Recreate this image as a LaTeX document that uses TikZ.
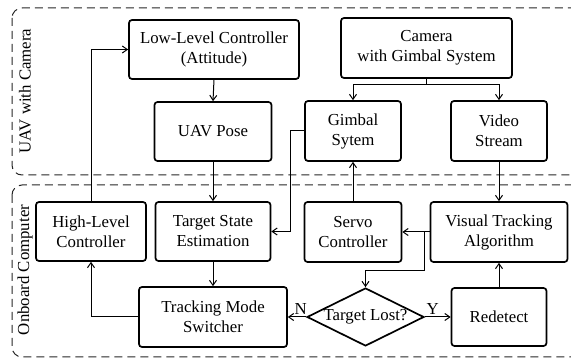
\documentclass[tikz,border=0pt]{standalone}
\usepackage{fontspec}
\setmainfont{Liberation Serif}
\usetikzlibrary{shapes.geometric,arrows.meta}

\begin{document}
\begin{tikzpicture}[x=1pt, y=-1pt,
  >={Straight Barb[length=5pt,width=7pt]},
  font=\fontsize{16.8}{20}\selectfont,
  blk/.style={draw, line width=1.7pt, rounded corners=3pt, align=center,
              inner sep=0pt},
  area/.style={draw=black!85, line width=1pt, dash pattern=on 8pt off 5pt,
               rounded corners=10pt},
  conn/.style={->, line width=1pt}]
\useasboundingbox (0,0) rectangle (571,358);
\clip (0,0) rectangle (571,358);

% dashed areas
\draw[area] (12,8) rectangle (600,175);
\draw[area] (12,185) rectangle (600,357);
\node[rotate=90] (uavlbl) at (25,91) {UAV with Camera};
\node[rotate=90] (obclbl) at (25,270) {Onboard Computer};

% UAV with camera
\node[blk, minimum width=170pt, minimum height=59pt] (LLC) at (214,49.5)
  {Low-Level Controller\\(Attitude)};
\node[blk, minimum width=117pt, minimum height=59pt] (Pose) at (213,131.5)
  {UAV Pose};
\node[blk, minimum width=171pt, minimum height=60pt] (Cam) at (426.5,48)
  {Camera\\with Gimbal System};
\node[blk, minimum width=96pt, minimum height=60pt] (Gim) at (353,131)
  {Gimbal\\Sytem};
\node[blk, minimum width=96pt, minimum height=60pt] (Vid) at (499,131)
  {Video\\Stream};

% onboard computer
\node[blk, minimum width=110pt, minimum height=59pt] (HLC) at (91,231.5)
  {High-Level\\Controller};
\node[blk, minimum width=115pt, minimum height=59pt] (TSE) at (213,231.5)
  {Target State\\Estimation};
\node[blk, minimum width=148pt, minimum height=60pt] (TMS) at (213,317)
  {Tracking Mode\\Switcher};
\node[blk, minimum width=97pt, minimum height=60pt] (Servo) at (353,232)
  {Servo\\Controller};
\node[blk, minimum width=137pt, minimum height=60pt] (VTA) at (499,232)
  {Visual Tracking\\Algorithm};
\node[draw, diamond, line width=1.7pt, inner sep=0pt, aspect=2,
      minimum width=117pt, minimum height=58pt] (Lost) at (365.5,317)
  {Target Lost?};
\node[blk, minimum width=95pt, minimum height=58pt] (Redet) at (499,317)
  {Redetect};

% connectors
\coordinate (split) at (426.5,85);
\coordinate (br) at (424,232);
\coordinate (bk) at (424,271);
\draw[conn] (HLC.north) |- (LLC.west);
\draw[conn] (LLC.south) -- (Pose.north);
\draw[conn] (Pose.south) -- (TSE.north);
\draw[line width=1pt] (Cam.south) -- (split);
\draw[conn] (split) -| (Gim.north);
\draw[conn] (split) -| (Vid.north);
\draw[conn] (Gim.west) -- ++(-14,0) |- (TSE.east);
\draw[conn] (Servo.north) -- (Gim.south);
\draw[conn] (Vid.south) -- (VTA.north);
\draw[conn] (VTA.west) -- (Servo.east);
\draw[conn] (br) -- (bk) -| (Lost.north);
\draw[conn] (TSE.south) -- (TMS.north);
\draw[conn] (TMS.west) -| (HLC.south);
\draw[conn] (Lost.west) -- node[above, pos=.3, inner sep=2pt] {N} (TMS.east);
\draw[conn] (Lost.east) -- node[above, pos=.3, inner sep=2pt] {Y} (Redet.west);
\draw[conn] (Redet.north) -- (VTA.south);
\end{tikzpicture}
\end{document}
